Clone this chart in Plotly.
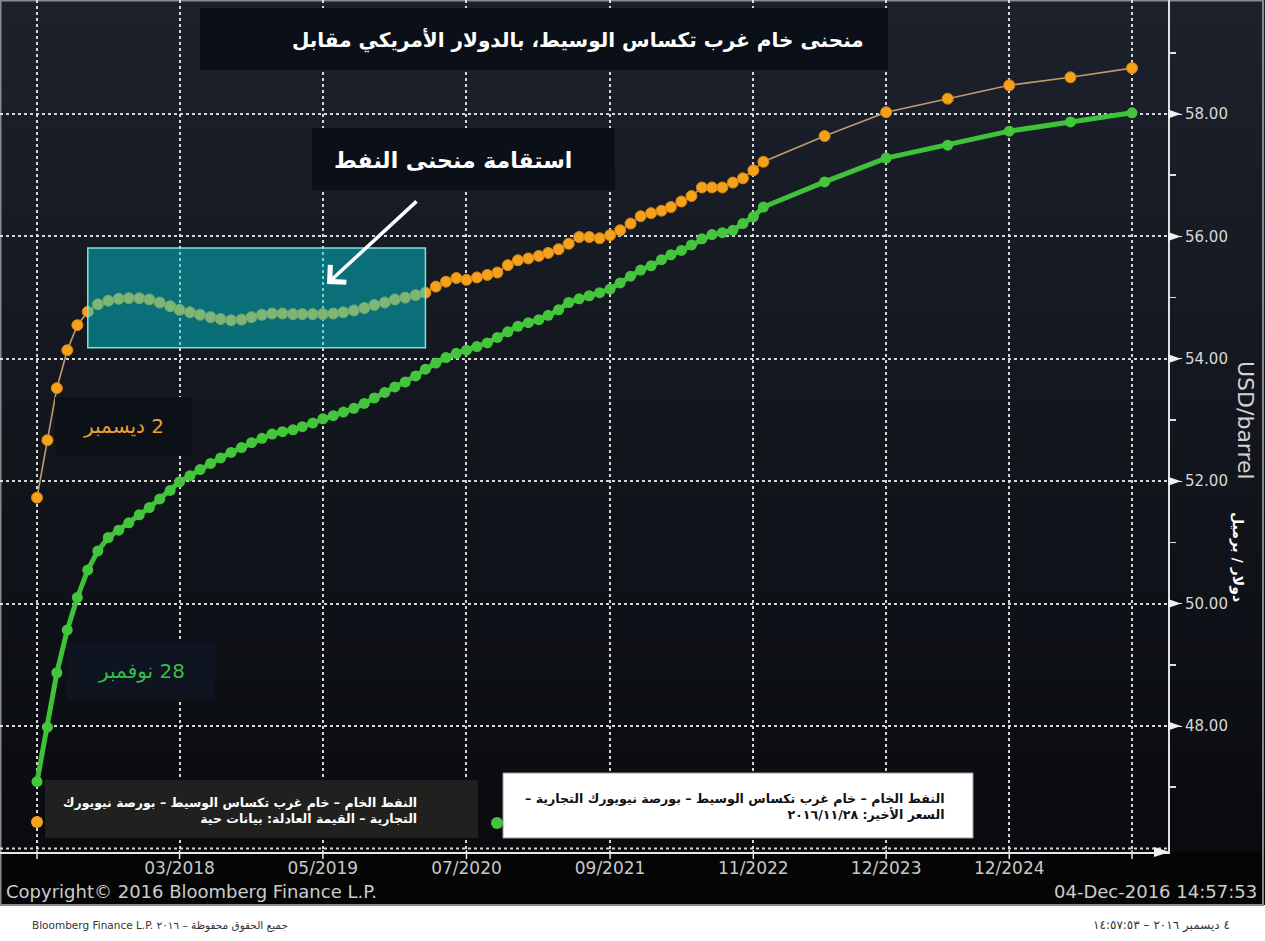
import pandas as pd
import plotly.graph_objects as go

# ---------------------------------------------------------------------------
# WTI (NYMEX) forward curve, USD per barrel, by contract month
# ---------------------------------------------------------------------------
monthly_contracts = list(pd.date_range("2017-01-01", "2022-12-01", freq="MS"))
semiannual_contracts = list(pd.to_datetime(
    ["2023-06-01", "2023-12-01", "2024-06-01", "2024-12-01", "2025-06-01", "2025-12-01"]))
contract_months = monthly_contracts + semiannual_contracts

# Fair value curve, 2 December
curve_dec02 = [
    51.73, 52.67, 53.52, 54.14, 54.55, 54.77, 54.89, 54.95, 54.98, 54.99, 54.99, 54.97,
    54.92, 54.86, 54.80, 54.76, 54.72, 54.68, 54.65, 54.63, 54.64, 54.68, 54.72, 54.74,
    54.74, 54.73, 54.73, 54.73, 54.73, 54.74, 54.76, 54.79, 54.83, 54.88, 54.92, 54.97,
    55.00, 55.04, 55.08, 55.18, 55.26, 55.32, 55.29, 55.33, 55.37, 55.41, 55.53, 55.61,
    55.64, 55.68, 55.73, 55.79, 55.88, 55.99, 55.99, 55.97, 56.02, 56.10, 56.21, 56.33,
    56.38, 56.42, 56.48, 56.57, 56.66, 56.80, 56.80, 56.80, 56.88, 56.95, 57.08, 57.22,
    57.64, 58.03, 58.25, 58.47, 58.60, 58.75,
]

# Last price curve, 28 November
curve_nov28 = [
    47.09, 47.98, 48.87, 49.57, 50.10, 50.55, 50.86, 51.08, 51.20, 51.32, 51.45, 51.57,
    51.71, 51.85, 51.99, 52.09, 52.19, 52.29, 52.38, 52.47, 52.55, 52.63, 52.70, 52.77,
    52.81, 52.84, 52.89, 52.95, 53.02, 53.07, 53.13, 53.19, 53.27, 53.36, 53.45, 53.54,
    53.62, 53.72, 53.83, 53.93, 54.02, 54.09, 54.14, 54.20, 54.26, 54.35, 54.44, 54.53,
    54.59, 54.64, 54.71, 54.80, 54.92, 54.98, 55.03, 55.08, 55.14, 55.24, 55.35, 55.45,
    55.52, 55.62, 55.70, 55.77, 55.86, 55.96, 56.03, 56.06, 56.10, 56.21, 56.32, 56.48,
    56.89, 57.28, 57.49, 57.72, 57.87, 58.02,
]

y_ticks = [48, 50, 52, 54, 56, 58]
y_minor_ticks = [47, 49, 51, 53, 55, 57, 59]
x_tick_dates = ["2017-01-01", "2018-03-01", "2019-05-01", "2020-07-01", "2021-09-01",
                "2022-11-01", "2023-12-01", "2024-12-01", "2025-12-01"]
x_tick_text = ["", "03/2018", "05/2019", "07/2020", "09/2021", "11/2022",
               "12/2023", "12/2024", ""]

# highlighted flat stretch of the curve
flat_start, flat_end = "2017-06-01", "2020-03-01"
flat_low, flat_high = 54.18, 55.81

# ---------------------------------------------------------------------------
# page geometry
# ---------------------------------------------------------------------------
W, H = 1265, 941
ML, MR, MT, MB = 0, 97, 0, 89
PW, PH = W - ML - MR, H - MT - MB


def px(x):
    return (x - ML) / PW


def py(y):
    return 1 - (y - MT) / PH


# axis scales: first contract sits 37 px in, Dec-2025 contract 1132 px in
first = contract_months[0]
last = contract_months[-1]
px_per_day = (1132 - 37) / (last - first).days
x_range = [first - pd.Timedelta(days=37 / px_per_day),
           first + pd.Timedelta(days=(PW - 37) / px_per_day)]
px_per_usd = 61.2
y_range = [58 - (PH - 114) / px_per_usd, 58 + 114 / px_per_usd]

FONT = "DejaVu Sans"
ORANGE = "#f5a11c"
GREEN = "#44c63c"

fig = go.Figure()
fig.add_trace(go.Scatter(
    x=contract_months, y=curve_nov28, mode="lines+markers",
    line=dict(color="#3fc23a", width=5),
    marker=dict(size=11, color=GREEN),
    hoverinfo="skip", showlegend=False))
fig.add_trace(go.Scatter(
    x=contract_months, y=curve_dec02, mode="lines+markers",
    line=dict(color="#bf9b70", width=1.6),
    marker=dict(size=11, color=ORANGE, line=dict(color="#d8870f", width=1)),
    hoverinfo="skip", showlegend=False))

shapes = []

# dark panel with a soft vertical gradient
top_rgb, bot_rgb = (28, 33, 44), (9, 11, 15)
n_bands = 40
for i in range(n_bands):
    t = (i + 0.5) / n_bands
    c = tuple(round(a + (b - a) * t) for a, b in zip(top_rgb, bot_rgb))
    shapes.append(dict(type="rect", xref="paper", yref="paper", layer="below",
                       x0=px(0), x1=px(W), y0=py(PH * i / n_bands), y1=py(PH * (i + 1) / n_bands + 1),
                       fillcolor="rgb(%d,%d,%d)" % c, line=dict(width=0)))
# black strip under the time axis
shapes.append(dict(type="rect", xref="paper", yref="paper", layer="below",
                   x0=px(0), x1=px(W), y0=py(905), y1=py(PH),
                   fillcolor="#050505", line=dict(width=0)))
# panel frame
shapes.append(dict(type="rect", xref="paper", yref="paper", layer="below",
                   x0=px(0.5), x1=px(W - 2), y0=py(905), y1=py(0.5),
                   fillcolor="rgba(0,0,0,0)", line=dict(color="#8a8a8a", width=2)))

# dotted baseline just above the axis
shapes.append(dict(type="line", xref="paper", yref="y", layer="below",
                   x0=0, x1=1, y0=46, y1=46,
                   line=dict(color="rgba(235,235,235,0.9)", width=2, dash="dot")))

# arrowheads on the price axis ticks
h = 4.5 / px_per_usd
for v in y_ticks:
    shapes.append(dict(type="path", xref="paper", yref="y", layer="above",
                       path="M %f,%f L %f,%f L %f,%f Z" % (px(PW), v + h, px(PW + 13), v, px(PW), v - h),
                       fillcolor="#f0f0f0", line=dict(width=0)))
# arrowhead at the end of the time axis
shapes.append(dict(type="path", xref="paper", yref="paper", layer="above",
                   path="M %f,%f L %f,%f L %f,%f Z" % (px(PW - 14), py(PH - 5), px(PW + 2), py(PH),
                                                      px(PW - 14), py(PH + 5)),
                   fillcolor="#f0f0f0", line=dict(width=0)))
# short tick marks under the time axis
for d in x_tick_dates:
    shapes.append(dict(type="line", xref="x", yref="paper", layer="above",
                       x0=d, x1=d, y0=py(PH - 2), y1=py(PH + 7),
                       line=dict(color="#e8e8e8", width=1.5)))

# highlighted flat section
shapes.append(dict(type="rect", xref="x", yref="y", layer="above",
                   x0=flat_start, x1=flat_end, y0=flat_low, y1=flat_high,
                   fillcolor="rgba(0,205,215,0.48)",
                   line=dict(color="rgba(140,230,230,0.95)", width=1.5)))


# label boxes
def box(x0, y0, x1, y1, fill, line=None):
    shapes.append(dict(type="rect", xref="paper", yref="paper", layer="above",
                       x0=px(x0), x1=px(x1), y0=py(y1), y1=py(y0),
                       fillcolor=fill, line=line or dict(width=0)))


box(200, 8, 888, 70, "#0b0f17")
box(312, 128, 615, 190, "#0b0f17")
box(55, 397, 192, 455, "#0c1118")
box(67, 642, 215, 700, "#0e1420")
box(45, 780, 478, 838, "#20201e")
box(503, 773, 973, 838, "#ffffff", dict(color="#9a9a9a", width=1))
# white footer strip
shapes.append(dict(type="rect", xref="paper", yref="paper", layer="below",
                   x0=px(0), x1=px(W), y0=py(H), y1=py(906),
                   fillcolor="#ffffff", line=dict(width=0)))

# legend dots
for cx, cy, col in [(37, 822, ORANGE), (497, 823, GREEN)]:
    shapes.append(dict(type="circle", xref="paper", yref="paper", layer="above",
                       x0=px(cx - 6), x1=px(cx + 6), y0=py(cy + 6), y1=py(cy - 6),
                       fillcolor=col, line=dict(width=0)))

annotations = []


def label(x, y, text, size, color, xanchor="center", yanchor="middle", bold=False,
          angle=0, align="center"):
    annotations.append(dict(
        xref="paper", yref="paper", x=px(x), y=py(y), text=("<b>%s</b>" % text) if bold else text,
        showarrow=False, xanchor=xanchor, yanchor=yanchor, textangle=angle, align=align,
        font=dict(family=FONT, size=size, color=color)))


# bidi controls: right-to-left embedding, pop, right/left marks
RLE, PDF, RLM, LRM = "\u202b", "\u202c", "\u200f", "\u200e"


def rtl(s):
    return RLE + s + PDF


label(866, 40, "منحنى خام غرب تكساس الوسيط، بالدولار الأمريكي مقابل", 20, "#ffffff",
      xanchor="right", bold=True)
label(574, 160, "استقامة منحنى النفط", 22, "#ffffff", xanchor="right", bold=True)
label(123, 426, rtl("2 ديسمبر"), 20, "#ef9f2e")
label(141, 671, rtl("28 نوفمبر"), 20, "#37bd44")
label(419, 810,
      "النفط الخام – خام غرب تكساس الوسيط – بورصة نيويورك<br>التجارية – القيمة العادلة: بيانات حية",
      12.5, "#ffffff", xanchor="right", bold=True, align="right")
label(946, 806,
      rtl("النفط الخام – خام غرب تكساس الوسيط – بورصة نيويورك التجارية –" + RLM)
      + "<br>" + rtl("السعر الأخير: ٢٠١٦/١١/٢٨"),
      12.6, "#111111", xanchor="right", bold=True, align="right")
label(1246, 420, "USD/barrel", 22, "#d2d2d2", angle=90)
label(1238, 557, "دولار / برميل", 14, "#ffffff", angle=90, bold=True)
label(4, 891, "Copyright© 2016 Bloomberg Finance L.P.", 18, "#cccccc", xanchor="left")
label(1259, 891, "04-Dec-2016 14:57:53", 18, "#cccccc", xanchor="right")
label(30, 925, rtl("جميع الحقوق محفوظة – ٢٠١٦ Bloomberg Finance L.P." + LRM),
      10.5, "#333333", xanchor="left")
label(1232, 925, rtl("٤ ديسمبر ٢٠١٦ – ١٤:٥٧:٥٣"), 12, "#333333", xanchor="right")

# arrow pointing at the flat section
annotations.append(dict(xref="paper", yref="paper", x=px(327), y=py(284), ax=91, ay=-84,
                        text="", showarrow=True, arrowhead=4, arrowsize=1.3, arrowwidth=3.5,
                        arrowcolor="#ffffff"))

grid = dict(showgrid=True, gridcolor="rgba(235,235,235,0.9)", gridwidth=2, griddash="dot")

fig.update_layout(
    width=W, height=H,
    margin=dict(l=ML, r=MR, t=MT, b=MB, pad=0),
    paper_bgcolor="#ffffff", plot_bgcolor="rgba(0,0,0,0)",
    showlegend=False, hovermode=False,
    shapes=shapes, annotations=annotations,
    xaxis=dict(type="date", range=x_range, tickvals=x_tick_dates, ticktext=x_tick_text,
               showline=True, linecolor="#e8e8e8", linewidth=2, ticks="",
               tickfont=dict(family=FONT, size=17, color="#c8c8c8"),
               zeroline=False, fixedrange=True, **grid),
    yaxis=dict(range=y_range, side="right", tickvals=y_ticks, tickformat=".2f",
               showline=True, linecolor="#e0e0e0", linewidth=2,
               ticks="outside", ticklen=12, tickwidth=1, tickcolor="#f0f0f0",
               minor=dict(tickvals=y_minor_ticks, ticks="outside", ticklen=6,
                          tickcolor="#e0e0e0", tickwidth=1.5, showgrid=False),
               tickfont=dict(family=FONT, size=15, color="#d8d8d8"),
               zeroline=False, fixedrange=True, **grid),
)

fig.write_html("out.html", config={"displayModeBar": False, "staticPlot": True})
